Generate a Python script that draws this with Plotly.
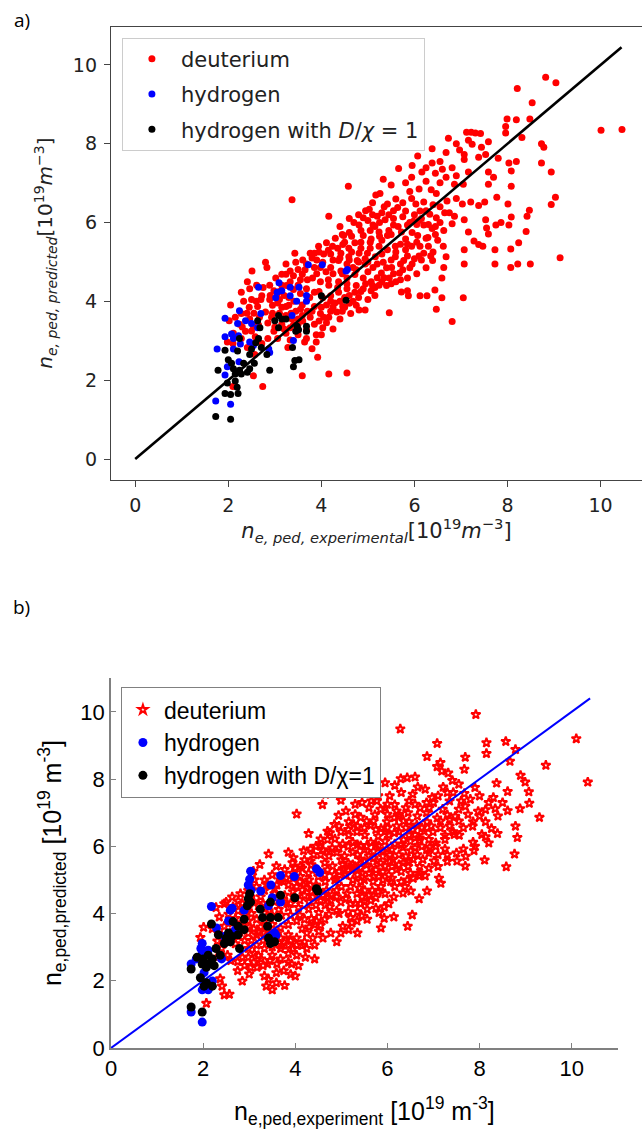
import plotly.graph_objects as go

W, H = 642, 1147

# ---------------- data: panel a ----------------
a_deuterium = [(8.82,9.69),(9.04,9.55),(8.21,9.40),(8.53,9.04),(7.99,8.63),(8.19,8.61),(8.48,8.63),(7.96,8.44),(10.01,8.34),(10.46,8.36),(7.96,8.27),(8.31,8.16),(8.73,8.0),(8.78,7.91),(8.73,7.51),(8.94,7.28),(9.03,6.64),(8.94,6.46),(9.13,5.11),(8.47,6.31),(8.42,6.16),(8.40,5.77),(8.49,4.95),(8.22,4.95),(8.07,4.86),(8.07,5.33),(8.24,5.49),(8.03,5.94),(8.08,6.14),(8.01,6.47),(8.08,6.92),(8.03,7.51),(8.19,7.55),(8.08,7.31),(7.80,7.63),(7.70,7.15),(7.59,6.97),(7.77,6.64),(7.75,5.94),(7.86,6.0),(7.73,5.31),(7.73,4.95),(7.51,6.52),(7.38,6.43),(7.53,6.07),(7.55,5.86),(7.59,5.71),(7.38,5.44),(7.28,5.53),(7.47,5.40),(7.07,5.31),(7.07,4.95),(7.05,4.09),(6.81,3.49),(6.47,3.80),(6.44,4.29),(6.59,4.09),(6.27,4.14),(6.12,4.14),(5.87,4.14),(5.85,4.27),(5.72,4.24),(5.46,3.71),(6.63,4.86),(6.68,5.13),(6.62,5.40),(6.39,5.04),(6.59,4.59),(6.63,5.80),(6.81,5.97),(6.86,6.16),(7.07,6.07),(7.16,5.76),(7.03,6.47),(7.21,6.52),(6.90,6.61),(6.86,6.97),(7.05,6.97),(7.07,7.60),(7.07,7.73),(7.16,7.28),(7.16,8.09),(7.22,8.29),(7.12,8.29),(7.24,7.99),(7.42,8.26),(7.31,8.27),(7.59,8.05),(7.44,7.91),(7.53,7.73),(7.38,7.66),(7.59,7.28),(6.90,8.0),(6.73,8.14),(6.97,7.84),(6.81,7.39),(6.90,7.19),(6.68,7.78),(6.38,7.87),(6.55,7.55),(6.38,7.51),(6.25,7.39),(6.16,7.28),(6.07,7.69),(5.94,7.15),(5.81,7.01),(5.66,7.37),(5.33,7.10),(5.26,6.74),(5.42,6.47),(5.17,6.70),(5.90,6.79),(5.94,6.61),(6.03,6.47),(6.20,6.52),(6.36,6.83),(6.47,6.74),(6.55,7.01),(6.68,7.15),(5.64,6.38),(5.81,6.29),(6.12,6.29),(6.33,6.21),(6.47,6.12),(5.85,5.94),(5.98,6.03),(6.20,5.94),(6.38,5.85),(6.29,5.62),(6.07,5.67),(5.81,5.58),(5.72,5.76),(5.55,5.94),(5.37,6.07),(5.20,6.16),(5.03,6.34),(4.90,6.12),(4.81,5.94),(5.11,5.94),(5.24,5.76),(5.42,5.67),(5.59,5.40),(5.81,5.31),(5.94,5.40),(6.12,5.40),(6.20,5.22),(6.0,5.08),(5.77,5.04),(5.59,5.13),(5.42,5.31),(5.24,5.40),(5.07,5.58),(4.90,5.67),(4.72,5.49),(4.59,5.35),(4.81,5.22),(4.99,5.22),(5.16,5.13),(5.33,4.99),(5.51,4.86),(5.68,4.72),(5.85,4.59),(5.46,4.59),(5.29,4.72),(5.11,4.86),(4.94,4.95),(4.77,5.04),(4.59,5.13),(4.42,5.22),(4.24,5.40),(4.11,5.49),(3.94,5.40),(3.76,5.22),(4.20,5.20),(4.46,5.44),(4.16,6.16),(4.48,5.67),(4.58,6.92),(3.37,6.58),(4.37,5.04),(4.20,4.86),(4.03,4.99),(3.85,4.86),(3.68,4.95),(3.45,4.99),(3.43,5.22),(3.50,4.81),(3.33,4.77),(3.24,4.69),(3.59,4.69),(3.81,4.59),(3.98,4.50),(4.16,4.41),(4.37,4.50),(4.55,4.59),(4.72,4.68),(4.90,4.59),(5.07,4.50),(5.24,4.41),(5.07,4.27),(4.90,4.32),(4.72,4.23),(4.55,4.32),(4.37,4.23),(4.20,4.14),(4.03,4.09),(3.85,4.23),(3.68,4.32),(3.50,4.41),(3.33,4.50),(3.15,4.41),(2.98,4.27),(2.89,4.41),(2.80,4.99),(2.83,4.86),(2.51,4.77),(2.41,4.50),(2.61,4.41),(2.46,4.32),(2.28,4.23),(2.50,4.05),(2.33,4.0),(2.05,3.91),(2.72,4.14),(2.89,4.05),(3.06,3.96),(3.24,3.87),(3.41,4.0),(3.59,3.91),(3.85,3.87),(4.11,3.91),(4.29,3.96),(4.46,3.87),(4.68,4.0),(4.81,3.78),(4.94,3.78),(4.63,3.69),(4.33,3.73),(4.16,3.60),(3.98,3.69),(3.76,3.60),(3.59,3.64),(3.37,3.55),(3.24,3.64),(3.15,3.42),(3.33,3.33),(3.50,3.42),(3.68,3.28),(3.85,3.42),(4.03,3.33),(4.11,3.46),(3.89,3.15),(3.68,3.06),(3.50,3.15),(3.33,3.02),(3.28,2.83),(3.64,2.97),(3.89,2.97),(3.92,2.58),(3.59,2.11),(4.16,2.16),(4.55,2.18),(2.74,1.84),(2.54,2.11),(2.10,1.84),(2.57,2.65),(2.41,2.83),(2.28,3.06),(2.10,2.93),(1.98,2.97),(2.37,3.24),(2.54,3.37),(2.67,3.60),(2.80,3.73),(2.63,3.87),(2.28,3.69),(2.46,3.55),(2.93,3.60),(2.98,3.24),(2.85,3.06),(2.72,2.93),(2.58,3.10),(2.24,3.42),(2.11,3.19),(3.06,3.06),(3.24,3.19),(2.02,3.51),(2.15,3.60),(3.15,4.69),(3.02,4.59),(3.24,4.95),(3.85,5.22),(3.98,4.86),(4.42,4.77),(4.68,4.86),(4.94,5.08),
    (5.50,6.95),(5.60,6.60),(5.75,6.50),(5.35,6.40),(5.10,6.50),(4.95,6.30),(4.70,6.00),(4.60,5.75),(4.40,5.90),(4.30,5.60),(4.05,5.20),(3.90,5.05),(4.55,4.95),(4.75,4.80),(5.00,4.75),(5.20,4.60),(5.40,4.40),(5.60,4.50),(5.70,4.95),(5.90,4.85),(6.05,4.70),(6.25,4.85),(6.40,5.25),(6.50,5.55),(6.30,5.95),(6.55,6.40),(6.70,6.55),(6.75,6.25),(6.10,6.85),(6.25,7.05),(5.95,7.45),(6.45,7.25),(6.60,7.35),(5.30,5.55),(5.50,5.70),(5.70,5.45),(5.95,5.75),(6.05,5.95),(6.15,6.10),(5.45,6.20),(5.15,5.90),(5.00,6.05),(4.85,5.50),(5.05,5.35),(5.30,5.20),(5.50,5.05),(5.60,5.25),(5.85,5.15),(6.10,5.15),(6.30,5.40),(4.45,4.70),(4.25,4.70),(4.10,4.75),(3.90,4.70),(3.70,4.55),(3.55,4.55),(3.40,4.30),(3.20,4.15),(3.05,4.20),(2.95,3.90),(3.10,3.70),(3.45,3.75),(3.70,3.75),(3.95,3.50),(4.25,3.85),(4.50,4.10),(4.80,4.10),(5.00,4.05),(4.40,3.55),(4.25,3.30),(4.00,3.15),(3.80,2.80),(3.50,3.55),(4.60,3.95),(5.15,4.15),(3.30,3.90),(2.75,4.35),(2.60,4.00),(2.45,3.85),
    (4.15,4.55),(4.35,4.35),(4.55,4.45),(4.75,4.40),(4.95,4.45),(5.15,4.35),(5.35,4.60),(5.55,4.70),(5.75,4.80),(5.95,4.95),(6.15,5.05),(6.35,5.15),(6.45,5.70),(6.55,6.00),(6.65,6.25),(6.40,6.45),(6.25,6.30),(6.00,6.20),(5.75,6.15),(5.55,6.10),(5.25,6.00),(5.05,5.80),(4.85,5.80),(4.65,5.65),(4.50,5.50),(4.35,5.35),(4.15,5.30),(3.95,5.25),(3.80,5.10),(3.60,5.05),(3.65,4.80),(3.40,4.65),(3.25,4.40),(3.10,4.25),(2.90,4.15),(2.70,4.05),(2.55,3.70),(2.40,3.70),(2.30,3.35),(2.50,3.25),(2.65,3.40),(2.85,3.45),(3.00,3.35),(3.20,3.30),(3.40,3.40),(3.60,3.50),(3.80,3.75),(4.00,3.85),(4.20,4.00),(4.40,4.00),(4.60,4.15),(4.85,4.25),(5.10,4.40),(5.30,4.50),(5.50,4.45),(5.70,4.55),(5.40,4.85),(5.20,4.95),(5.00,5.00),(4.80,5.00),(4.60,5.05),(4.40,5.10),(4.25,5.05),(4.65,5.25),(4.85,5.35),(5.05,5.50),(5.25,5.65),(5.45,5.80),(5.65,5.90),(5.90,6.00),(6.10,6.05),(5.85,5.45),(6.05,5.50),(6.25,5.60),(6.45,5.90),(5.55,6.30),(5.30,6.25),(5.10,6.20),(4.80,6.20),(4.60,6.10),(4.45,5.70),(3.95,4.25),(3.75,4.10),(3.55,4.20),(3.30,4.10),(3.10,4.05),(2.95,3.70),(3.15,3.85),(3.35,3.70),(3.55,3.80),(4.05,3.60),(4.20,3.75),(4.45,3.75),(4.75,3.90),(4.50,3.85)]

a_hydrogen = [(3.72,4.93),(4.02,4.93),(4.53,4.77),(4.56,4.81),(3.09,4.47),(3.05,4.23),(3.15,4.27),(3.02,4.09),(3.33,4.36),(3.52,4.36),(3.33,4.14),(3.47,4.00),(3.68,4.15),(3.68,4.00),(2.65,4.36),(2.24,3.76),(1.93,3.57),(2.37,3.51),(2.50,3.44),(2.63,3.33),(2.70,3.69),(2.20,3.44),(2.07,3.17),(1.93,3.10),(2.22,3.13),(2.11,3.06),(2.26,2.92),(2.46,2.97),(2.54,2.88),(2.11,2.79),(1.76,2.79),(2.87,2.79),(2.89,2.70),(1.98,2.34),(2.23,2.47),(1.93,2.13),(1.73,1.47),(2.05,1.39),(3.40,3.01),(3.37,3.64)]

a_hydrogen_dchi = [(4.00,4.14),(4.53,4.03),(3.08,3.64),(3.15,3.55),(3.08,3.33),(3.00,3.51),(3.68,3.37),(3.68,3.24),(3.48,3.37),(3.45,3.24),(3.51,3.28),(3.38,2.83),(3.43,2.50),(3.52,2.52),(3.40,2.34),(2.63,3.51),(2.68,3.33),(2.65,3.06),(2.59,2.95),(2.71,2.83),(2.50,2.79),(2.46,2.65),(2.56,2.43),(2.24,3.06),(2.20,2.74),(2.00,2.52),(1.93,2.76),(1.78,2.25),(2.07,2.43),(2.11,2.29),(2.24,2.25),(2.15,2.16),(2.28,2.16),(2.41,2.20),(2.46,2.29),(2.33,2.43),(2.89,2.25),(2.83,2.65),(2.15,1.98),(1.93,1.66),(2.05,1.64),(2.19,1.82),(2.21,1.66),(1.73,1.08),(2.05,1.01),(1.98,1.93),(3.24,3.55)]

a_line = [0.0, 10.45]

# ---------------- data: panel b ----------------
b_deuterium = [(7.92,9.92),(6.28,9.49),(10.10,9.20),(7.08,9.06),(8.15,9.08),(8.57,9.12),(8.15,8.76),(8.78,8.88),(9.44,8.41),(10.35,7.91),(8.66,8.53),(7.69,8.65),(7.15,8.49),(6.86,8.67),(8.89,8.11),(8.99,7.91),(9.07,7.62),(9.08,7.28),(8.88,7.12),(9.30,6.86),(8.78,6.60),(8.82,6.26),(8.76,5.77),(8.58,5.39),(8.61,7.06),(8.61,7.63),(8.37,7.88),(8.30,7.45),(8.34,7.12),(8.13,7.09),(7.97,7.04),(7.86,6.73),(8.13,6.73),(8.26,6.53),(8.39,6.38),(8.13,6.28),(7.86,6.12),(8.11,5.59),(7.88,5.87),(7.65,5.92),(7.69,5.41),(7.51,5.56),(7.56,6.33),(7.43,6.43),(7.25,5.92),(7.01,5.56),(6.92,5.97),(6.77,5.61),(6.69,6.17),(6.86,4.67),(7.16,4.90),(7.12,5.05),(6.82,5.12),(6.69,5.12),(6.56,5.05),(6.43,5.0),(6.51,4.67),(6.69,4.44),(6.54,3.96),(6.44,3.62),(6.34,4.61),(6.14,4.49),(6.14,3.90),(5.93,4.20),(5.93,3.86),(5.86,3.57),(5.75,4.47),(5.75,4.16),(5.67,4.69),(5.44,3.93),(5.35,3.42),(5.23,3.72),(5.20,3.88),(5.03,3.62),(4.90,3.16),(4.90,4.08),(4.73,3.98),(4.46,3.78),(4.42,2.65),(4.22,2.70),(4.20,3.16),(4.03,2.76),(4.00,2.14),(3.90,2.19),(3.92,2.50),(3.85,2.81),(3.75,2.30),(3.77,1.86),(3.59,1.94),(3.50,1.73),(3.42,2.04),(3.33,2.14),(3.40,2.50),(3.26,2.65),(3.17,2.40),(3.03,2.40),(2.98,2.70),(2.85,2.70),(2.85,1.99),(2.57,1.60),(2.46,1.58),(2.41,1.84),(2.37,2.06),(2.07,1.33),(2.75,2.57),(2.53,2.76),(2.40,2.96),(2.31,3.18),(1.94,3.29),(2.01,3.59),(2.50,4.34),(2.76,4.37),(3.03,4.49),(3.23,5.46),(3.09,5.26),(3.42,5.77),(4.03,6.96),(4.29,6.38),(4.59,7.24),(4.66,7.55),(4.99,7.37),(4.70,6.45),(4.55,6.22),(4.53,6.02),(4.33,5.92),(4.18,5.87),(3.96,5.66),(3.85,5.82),(3.94,5.51),(4.11,5.41),(4.33,5.56),(4.94,6.92),(5.16,6.73),(5.27,6.65),(5.42,6.86),(5.51,7.60),(5.61,7.57),(5.95,7.89),(6.16,7.81),(6.29,8.01),(6.43,8.04),(6.60,8.06),(6.66,7.76),(6.82,7.70),(7.08,8.37),(7.18,8.24),(7.32,8.18),(7.41,7.96),(7.67,8.29),(7.43,7.60),(7.67,7.57),(7.21,7.76),(6.97,7.45),(6.91,7.14),(6.71,7.14),(6.47,7.35),(6.16,7.24),(5.95,7.14),(5.77,7.35),(5.73,6.94),(5.99,6.73),(6.25,6.89),(6.47,6.73),(6.64,6.63),(6.86,6.73),(7.08,6.84),(7.30,6.94),(7.47,6.89),(7.69,7.19),(6.99,6.43),(7.25,6.33),(6.47,6.33),(6.25,6.43),(6.03,6.33),(5.86,6.53),(5.64,6.63),(5.51,6.33),(5.34,6.43),(5.16,6.33),(4.99,6.43),(4.86,6.22),(5.03,6.07),(5.25,6.12),(5.42,6.02),(5.64,6.12),(5.81,6.02),(5.99,5.92),(6.16,6.07),(6.34,5.97),(6.51,5.87),(6.56,5.61),(6.34,5.51),(6.12,5.61),(5.95,5.41),(5.77,5.56),(5.60,5.71),(5.42,5.61),(5.25,5.82),(5.07,5.71),(4.90,5.82),(4.73,5.71),(4.64,5.51),(4.81,5.41),(5.03,5.46),(5.25,5.31),(5.42,5.36),(5.60,5.20),(5.81,5.10),(6.03,5.15),(6.20,5.31),(5.42,4.95),(5.25,5.0),(5.07,5.15),(4.86,5.0),(4.64,5.15),(4.46,5.31),(4.29,5.20),(4.11,5.10),(3.94,5.20),(3.77,5.31),(3.59,5.41),(3.50,5.15),(3.68,5.0),(3.85,4.85),(4.03,4.80),(4.25,4.90),(4.46,4.80),(4.68,4.69),(4.90,4.69),(5.12,4.59),(5.34,4.59),(5.51,4.69),(5.64,4.39),(5.42,4.29),(5.20,4.29),(4.99,4.34),(4.77,4.39),(4.55,4.39),(4.38,4.49),(4.20,4.54),(3.98,4.49),(3.77,4.54),(3.55,4.59),(3.33,4.69),(3.16,4.80),(3.33,5.0),(3.11,5.0),(2.98,4.69),(2.81,4.59),(2.63,4.49),(2.46,4.29),(2.28,4.18),(2.55,3.98),(2.76,4.08),(2.98,4.18),(3.20,4.23),(3.42,4.08),(3.64,4.12),(3.85,4.18),(4.07,4.18),(4.29,4.13),(4.51,4.03),(4.64,3.83),(4.42,3.67),(4.20,3.83),(4.03,3.78),(3.85,3.67),(3.68,3.57),(3.50,3.67),(3.33,3.78),(3.16,3.83),(2.98,3.78),(2.81,3.67),(2.63,3.72),(2.46,3.62),(2.59,3.42),(2.76,3.32),(2.98,3.42),(3.16,3.37),(3.33,3.42),(3.46,3.27),(3.68,3.27),(3.85,3.37),(4.03,3.27),(4.25,3.42),(4.38,3.27),(4.51,3.47),(4.03,3.06),(3.85,3.06),(3.68,2.96),(3.50,3.01),(3.33,2.96),(3.16,3.06),(2.98,2.96),(3.11,2.81),(3.50,2.76),(3.68,2.65),(3.85,2.55),(4.07,2.45),(4.25,2.96),(4.42,3.06),(4.60,3.27),(4.77,3.42),(4.99,3.42),(5.16,3.52),(5.34,3.78),(5.56,3.83),(5.56,4.13),(5.82,4.03),(6.03,4.29),(5.95,4.59),(6.16,4.80),(6.38,4.80),(6.07,4.95),(5.86,4.80),(5.69,4.95),(3.37,1.84),(3.59,2.24),
    (4.8,5.95),(5.0,5.6),(5.15,5.5),(5.35,5.75),(5.5,5.9),(5.7,5.85),(5.9,5.7),(6.05,5.75),(6.25,5.75),(6.4,5.7),(6.6,5.95),(6.75,6.0),(6.9,6.2),(7.05,6.1),(7.15,6.55),(7.35,6.6),(6.8,6.45),(6.6,6.35),(6.35,6.2),(6.2,6.6),(6.0,6.55),(5.8,6.3),(5.7,6.75),(5.5,6.55),(5.3,6.95),(5.1,7.05),(4.85,6.65),(4.7,6.2),(4.45,6.0),(4.4,5.75),(4.6,5.9),(4.2,5.6),(4.0,5.35),(3.8,5.05),(3.6,4.85),(3.4,4.85),(3.25,4.5),(3.55,4.35),(3.75,4.35),(3.95,4.65),(4.15,4.7),(4.35,4.65),(4.6,4.55),(4.8,4.55),(5.0,4.8),(5.2,4.8),(5.4,4.75),(5.6,4.55),(5.8,4.65),(5.75,5.3),(5.55,5.45),(5.35,5.15),(5.15,5.3),(4.95,5.25),(4.7,5.3),(4.5,5.1),(4.3,5.0),(4.1,4.95),(5.9,5.25),(6.1,5.4),(6.3,5.25),(6.45,5.4),(6.7,5.4),(6.9,5.8),(7.1,5.75),(7.3,5.55),(6.25,6.95),(6.45,7.0),(6.65,6.9),(6.85,7.0),(7.0,7.3),(7.2,7.1),(7.35,7.35),(7.55,7.1),(7.8,7.4),(7.9,7.75),(7.55,7.85),(7.3,7.6),(6.55,7.55),(6.3,7.6),(6.05,7.5),(5.85,7.1),(5.6,7.15),(5.45,7.3),(5.3,7.25),(6.0,6.95),(4.75,4.2),(4.95,4.0),(5.15,4.05),(5.35,4.05),(5.45,4.5),(3.1,3.55),(3.25,3.6),(3.4,3.5),(3.6,3.4),(3.75,3.15),(3.9,3.2),(4.15,3.55),(4.3,3.6),(4.45,4.25),(4.65,4.25),(2.7,3.85),(2.9,3.95),(3.05,4.0),(2.35,3.9),(2.65,4.2),(2.85,4.3),(3.1,4.35),(3.3,4.3),(2.2,3.55),(2.4,3.35),(2.55,3.15),(2.7,3.1),(2.9,3.2),(3.05,3.2),(3.3,3.2),(3.55,3.2),(2.3,2.7),(2.6,2.6),(2.75,2.3),(3.0,2.2),(3.2,2.75),(3.45,2.6),(3.6,2.5),
    (4.9,5.05),(5.1,5.15),(5.3,5.4),(5.5,5.55),(5.7,5.65),(5.9,5.85),(6.1,5.9),(6.3,6.05),(6.5,6.15),(6.7,6.25),(6.4,6.55),(6.15,6.4),(5.95,6.15),(5.75,6.05),(5.55,6.0),(5.35,6.05),(5.15,6.0),(4.95,5.95),(4.75,5.85),(4.55,5.75),(4.35,5.45),(4.15,5.35),(3.95,5.05),(3.75,4.95),(3.55,4.75),(4.25,4.75),(4.45,4.85),(4.65,4.95),(4.85,5.15),(5.05,5.3),(5.25,5.45),(5.45,5.2),(5.65,5.35),(5.85,5.5),(6.05,5.55),(6.25,5.45),(6.45,5.55),(6.65,5.75),(6.85,5.9),(7.05,6.0),(7.25,6.2),(7.45,6.35),(7.65,6.55),(7.85,6.6),(8.0,6.9),(7.75,6.95),(7.55,6.75),(7.35,6.8),(7.15,6.75),(6.95,6.6),(6.75,6.55),(6.55,6.5),(6.35,6.75),(6.15,6.85),(5.95,6.45),(5.75,6.5),(5.55,6.75),(5.35,6.6),(5.15,6.5),(4.95,6.6),(4.75,6.4),(3.9,4.3),(4.1,4.4),(4.3,4.35),(4.5,4.55),(4.7,4.45),(4.9,4.5),(5.1,4.45),(5.3,4.3),(5.5,4.35),(3.35,4.15),(3.5,3.95),(3.7,3.95),(3.9,3.95),(4.1,3.95),(4.35,3.85),(4.55,3.65),(3.0,3.6),(2.85,3.5),(3.2,3.45),(3.7,3.05),(3.95,2.95),(4.15,3.05),(3.3,2.45),(3.1,2.55),(2.9,2.45),(5.5,5.0),(5.7,5.1),(5.9,5.0),(6.1,5.05),(6.3,4.95),(6.5,5.2),(6.7,5.2),(6.9,5.35),(7.1,5.4),(7.3,5.75),(7.5,5.8),(7.7,5.7),(7.9,6.0),(8.05,6.35),(8.2,6.1),(8.4,6.9),(8.5,7.3),(8.2,7.3),(8.0,7.5),(7.6,7.35),(7.1,7.5),(6.85,7.3),(6.6,7.25),(6.4,7.15),(6.2,7.05),(6.0,7.25),(5.8,7.5),(5.65,7.35)]

b_hydrogen = [(3.03,5.26),(3.01,5.02),(2.98,4.85),(3.04,4.69),(3.68,5.13),(3.98,5.10),(4.46,5.33),(4.53,5.22),(3.47,4.85),(3.25,4.67),(3.68,4.34),(2.18,4.21),(2.63,4.16),(2.59,4.10),(2.89,4.10),(3.42,4.23),(3.50,4.47),(2.29,3.57),(2.55,3.78),(2.70,3.52),(2.46,3.32),(1.95,2.96),(1.98,3.11),(2.11,2.91),(1.98,2.81),(2.40,2.65),(1.74,2.50),(1.85,2.65),(2.02,2.24),(2.20,1.99),(2.11,1.84),(1.98,1.73),(2.11,1.73),(1.74,1.07),(1.98,0.77),(3.55,3.42),(3.58,3.35)]

b_hydrogen_dchi = [(4.46,4.74),(4.49,4.67),(3.99,4.47),(3.68,4.54),(3.46,4.34),(3.01,4.59),(2.98,4.44),(3.03,4.34),(2.96,4.23),(3.24,4.13),(3.29,3.88),(3.46,3.88),(3.63,3.88),(3.40,3.62),(3.42,3.27),(3.55,3.16),(3.46,3.11),(2.89,3.83),(2.65,3.76),(2.76,3.62),(2.18,3.69),(2.33,3.37),(2.55,3.42),(2.50,3.27),(2.63,3.32),(2.76,3.37),(2.89,3.52),(2.46,3.11),(2.59,3.16),(2.28,2.96),(2.79,2.96),(1.87,2.70),(2.00,2.65),(2.11,2.76),(2.20,2.65),(1.98,2.50),(2.11,2.50),(2.24,2.45),(2.07,2.40),(1.74,2.35),(1.94,2.09),(2.07,1.94),(2.02,1.84),(2.20,1.84),(1.74,1.22),(1.98,1.07),(2.37,2.76)]

b_line = [0.0, 10.4]

series_names = ["deuterium", "hydrogen", "hydrogen with <i>D</i>/<i>χ</i> = 1"]
series_names_b = ["deuterium", "hydrogen", "hydrogen with D/χ=1"]
tick_vals = [0, 2, 4, 6, 8, 10]
tick_text = ["0", "2", "4", "6", "8", "10"]


def xs(pts):
    return [p[0] for p in pts]


def ys(pts):
    return [p[1] for p in pts]


fig = go.Figure()

# ---- panel a ----
for pts, name, col in [(a_deuterium, series_names[0], "#ff0000"),
                       (a_hydrogen, series_names[1], "#0000ff"),
                       (a_hydrogen_dchi, series_names[2], "#000000")]:
    fig.add_trace(go.Scatter(x=xs(pts), y=ys(pts), mode="markers", name=name,
                             marker=dict(color=col, size=7, line=dict(width=0)),
                             xaxis="x", yaxis="y", legend="legend", legendgroup="a" + name))
fig.add_trace(go.Scatter(x=a_line, y=a_line, mode="lines", line=dict(color="black", width=2.6),
                         showlegend=False, xaxis="x", yaxis="y", hoverinfo="skip"))

# ---- panel b ----
fig.add_trace(go.Scatter(x=xs(b_deuterium), y=ys(b_deuterium), mode="markers", name=series_names_b[0],
                         marker=dict(symbol="star-open", color="#ff0000", size=7, line=dict(width=2, color="#ff0000")),
                         xaxis="x2", yaxis="y2", legend="legend2", legendgroup="b0"))
fig.add_trace(go.Scatter(x=b_line, y=b_line, mode="lines", line=dict(color="#0000ff", width=2),
                         showlegend=False, xaxis="x2", yaxis="y2", hoverinfo="skip"))
fig.add_trace(go.Scatter(x=xs(b_hydrogen), y=ys(b_hydrogen), mode="markers", name=series_names_b[1],
                         marker=dict(color="#0000ff", size=9, line=dict(width=0)),
                         xaxis="x2", yaxis="y2", legend="legend2", legendgroup="b1"))
fig.add_trace(go.Scatter(x=xs(b_hydrogen_dchi), y=ys(b_hydrogen_dchi), mode="markers", name=series_names_b[2],
                         marker=dict(color="#000000", size=9, line=dict(width=0)),
                         xaxis="x2", yaxis="y2", legend="legend2", legendgroup="b2"))

fa = dict(family="DejaVu Sans", size=19, color="#222222")
fb = dict(family="Liberation Sans, Arial", size=22, color="#000000")

fig.update_layout(
    width=W, height=H,
    margin=dict(l=0, r=0, t=0, b=0),
    paper_bgcolor="white", plot_bgcolor="white",
    xaxis=dict(domain=[106 / W, 1.0], range=[-0.52, 10.89], anchor="y",
               tickvals=tick_vals, ticktext=tick_text, ticks="outside", ticklen=6, tickwidth=1.2,
               tickcolor="#444", showline=True, linecolor="#444", linewidth=1.4, mirror=True,
               showgrid=False, zeroline=False, tickfont=fa, ticklabelstandoff=2,
               title=dict(text="<i>n</i><sub><i>e, ped, experimental</i></sub>[10<sup>19</sup><i>m</i><sup>−3</sup>]",
                          font=dict(family="DejaVu Sans", size=21, color="#222"), standoff=8)),
    yaxis=dict(domain=[1 - 485 / H, 1 - 27 / H], range=[-0.52, 10.97], anchor="x",
               tickvals=tick_vals, ticktext=tick_text, ticks="outside", ticklen=6, tickwidth=1.2,
               tickcolor="#444", showline=True, linecolor="#444", linewidth=1.4, mirror=False,
               showgrid=False, zeroline=False, tickfont=fa, ticklabelstandoff=3,
               title=dict(text="<i>n</i><sub><i>e, ped, predicted</i></sub>[10<sup>19</sup><i>m</i><sup>−3</sup>]",
                          font=dict(family="DejaVu Sans", size=20, color="#222"), standoff=14)),
    xaxis2=dict(domain=[106 / W, 617.5 / W], range=[0, 11], anchor="y2",
                tickvals=tick_vals, ticktext=tick_text, ticks="inside", ticklen=5, tickwidth=1,
                tickcolor="#808080", showline=True, linecolor="#808080", linewidth=1.5, mirror=False,
                showgrid=False, zeroline=False, tickfont=fb,
                title=dict(text="n<sub>e,ped,experiment</sub> [10<sup>19</sup> m<sup>-3</sup>]",
                           font=dict(family="Liberation Sans, Arial", size=25, color="#000"), standoff=22)),
    yaxis2=dict(domain=[1 - 1060 / H, 1 - 686 / H], range=[0, 11], anchor="x2",
                tickvals=tick_vals, ticktext=tick_text, ticks="inside", ticklen=5, tickwidth=1,
                tickcolor="#808080", showline=True, linecolor="#808080", linewidth=1.5, mirror=False,
                showgrid=False, zeroline=False, tickfont=fb,
                title=dict(text="n<sub>e,ped,predicted</sub> [10<sup>19</sup> m<sup>-3</sup>]",
                           font=dict(family="Liberation Sans, Arial", size=25, color="#000"), standoff=12)),
    legend=dict(x=117 / W, y=1 - 38 / H, xanchor="left", yanchor="top",
                bgcolor="white", bordercolor="#cccccc", borderwidth=1,
                font=dict(family="DejaVu Sans", size=21, color="#222"),
                tracegroupgap=5, itemwidth=48),
    legend2=dict(x=116 / W, y=1 - 695 / H, xanchor="left", yanchor="top",
                 bgcolor="white", bordercolor="#808080", borderwidth=1,
                 font=dict(family="Liberation Sans, Arial", size=23, color="#000"),
                 tracegroupgap=0, itemwidth=32),
    annotations=[
        dict(text="a)", x=6 / W, y=1 - 20 / H, xref="paper", yref="paper", xanchor="left", yanchor="middle",
             showarrow=False, font=dict(family="Open Sans", size=19, color="#000")),
        dict(text="b)", x=5 / W, y=1 - 614 / H, xref="paper", yref="paper", xanchor="left", yanchor="middle",
             showarrow=False, font=dict(family="Open Sans", size=19, color="#000")),
    ],
)

fig.write_html("out.html", config={"displayModeBar": False},
               post_script="document.body.style.margin='0';")
